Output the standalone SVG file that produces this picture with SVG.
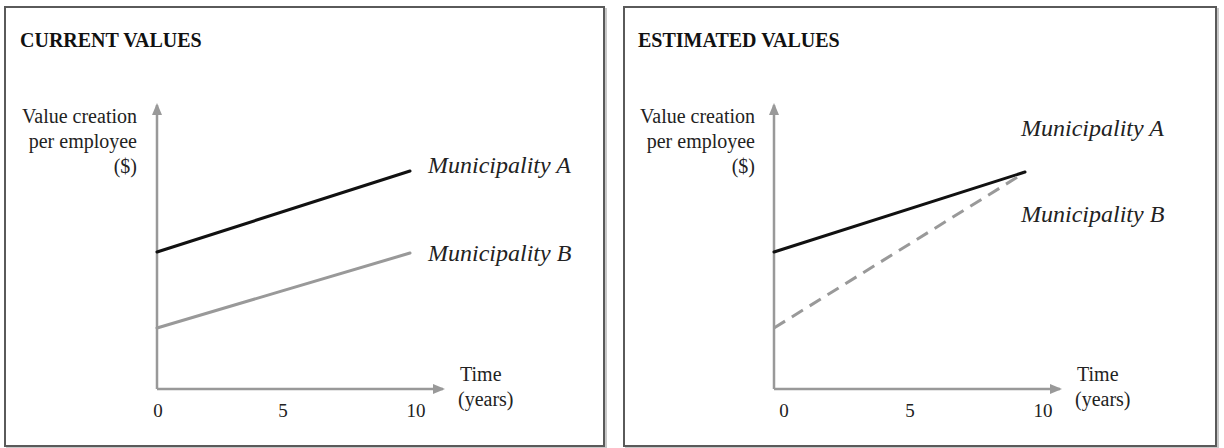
<svg xmlns="http://www.w3.org/2000/svg" width="1224" height="448" viewBox="0 0 1224 448">
<defs>
<style>
.panel{fill:#fff;stroke:#5a5a5a;stroke-width:2}
.shadow{fill:none;stroke:#c8c8c8;stroke-width:2}
.title{font-family:"Liberation Serif",serif;font-weight:bold;font-size:20px;fill:#111}
.lbl{font-family:"Liberation Serif",serif;font-size:20px;fill:#222}
.tick{font-family:"Liberation Serif",serif;font-size:19px;fill:#222;text-anchor:middle}
.ylab{font-family:"Liberation Serif",serif;font-size:20px;fill:#222;text-anchor:end}
.muni{font-family:"Liberation Serif",serif;font-style:italic;font-size:24px;fill:#222}
.axis{stroke:#999;stroke-width:2.5;fill:none}
.lineA{stroke:#111;stroke-width:3;fill:none;stroke-linecap:round}
.lineB{stroke:#999;stroke-width:3;fill:none;stroke-linecap:round}
.lineBd{stroke:#999;stroke-width:3;fill:none;stroke-dasharray:13 8}
</style>
<marker id="arr" markerWidth="12" markerHeight="10" refX="10" refY="5" orient="auto" markerUnits="userSpaceOnUse">
<path d="M0,0 L12,5 L0,10 Z" fill="#999"/>
</marker>
</defs>
<g id="panel-current">
<rect class="shadow" x="7" y="9" width="599" height="439"/>
<rect class="panel" x="5" y="7" width="599" height="439"/>
<text class="title" x="20" y="47">CURRENT VALUES</text>
</g>
<g id="panel-estimated">
<rect class="shadow" x="626" y="9" width="592" height="439"/>
<rect class="panel" x="624" y="7" width="592" height="439"/>
<text class="title" x="638" y="47">ESTIMATED VALUES</text>
</g>
<g id="axes-current">
<path class="axis" d="M157,389 L157,105" marker-end="url(#arr)"/>
<path class="axis" d="M157,389 L443,389" marker-end="url(#arr)"/>
<text class="ylab" x="137" y="123">Value creation</text>
<text class="ylab" x="137" y="148">per employee</text>
<text class="ylab" x="137" y="173">($)</text>
<text class="tick" x="158" y="417">0</text>
<text class="tick" x="283" y="417">5</text>
<text class="tick" x="416" y="417">10</text>
<text class="lbl" x="460" y="381">Time</text>
<text class="lbl" x="458" y="406">(years)</text>
</g>
<g id="axes-estimated">
<path class="axis" d="M774,389 L774,105" marker-end="url(#arr)"/>
<path class="axis" d="M774,389 L1060,389" marker-end="url(#arr)"/>
<text class="ylab" x="755" y="123">Value creation</text>
<text class="ylab" x="755" y="148">per employee</text>
<text class="ylab" x="755" y="173">($)</text>
<text class="tick" x="784" y="417">0</text>
<text class="tick" x="910" y="417">5</text>
<text class="tick" x="1043" y="417">10</text>
<text class="lbl" x="1077" y="381">Time</text>
<text class="lbl" x="1075" y="406">(years)</text>
</g>
<g id="connectors">
<line class="lineA" x1="157" y1="252" x2="410" y2="171"/>
<line class="lineB" x1="157" y1="328" x2="410" y2="253"/>
<line class="lineA" x1="774" y1="252" x2="1025" y2="172"/>
<line class="lineBd" x1="774" y1="328" x2="1024" y2="173"/>
</g>
<g id="labels">
<text class="muni" x="428" y="173">Municipality A</text>
<text class="muni" x="428" y="261">Municipality B</text>
<text class="muni" x="1021" y="136">Municipality A</text>
<text class="muni" x="1021" y="222">Municipality B</text>
</g>
</svg>
